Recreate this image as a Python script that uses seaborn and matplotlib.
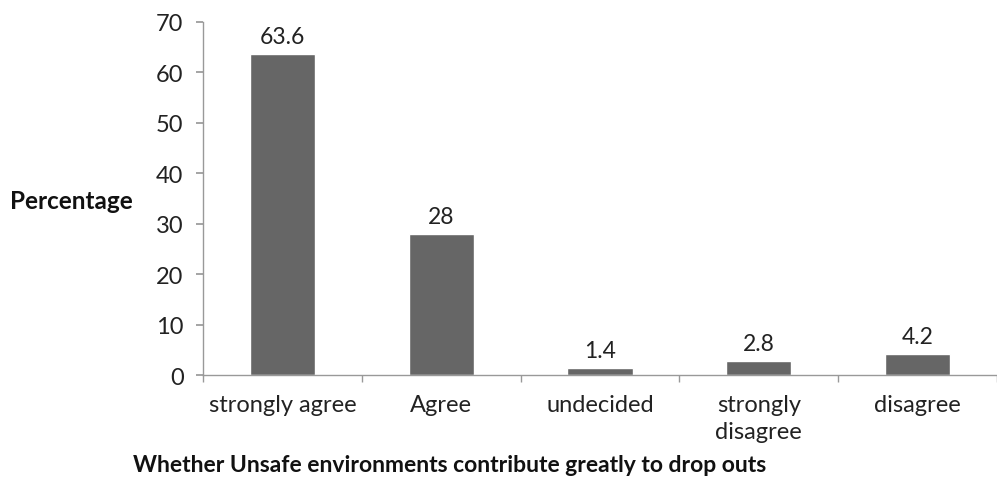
import matplotlib
matplotlib.use("Agg")
import matplotlib.pyplot as plt
from matplotlib.ticker import FixedLocator
import seaborn as sns
import pandas as pd

categories = ["strongly agree", "Agree", "undecided", "strongly\ndisagree", "disagree"]
percentages = [63.6, 28, 1.4, 2.8, 4.2]
value_labels = ["63.6", "28", "1.4", "2.8", "4.2"]

sns.set_theme(style="white")
plt.rcParams["font.family"] = ["Lato", "DejaVu Sans"]

df = pd.DataFrame({"category": categories, "pct": percentages})

fig = plt.figure(figsize=(9.97, 4.85), dpi=100)
ax = fig.add_axes([0.2036, 0.2247, 0.7964, 0.7279])

sns.barplot(data=df, x="category", y="pct", color="#666666", saturation=1,
            width=0.41, ax=ax)

for patch, lab in zip(ax.patches, value_labels):
    ax.annotate(lab, (patch.get_x() + patch.get_width() / 2, patch.get_height()),
                xytext=(0, 5), textcoords="offset points", ha="center",
                va="bottom", fontsize=16.5, color="#222222")

ax.set_xlim(-0.5, 4.5)
ax.set_ylim(0, 70)
ax.set_yticks(range(0, 71, 10))
ax.tick_params(axis="y", labelsize=17, colors="#222222", length=5,
               color="#999999", left=True, pad=9)
ax.set_xticks(range(len(categories)))
ax.tick_params(axis="x", which="major", length=0, labelsize=17,
               colors="#222222", pad=14)
ax.xaxis.set_minor_locator(FixedLocator([-0.5, 0.5, 1.5, 2.5, 3.5, 4.5]))
ax.tick_params(axis="x", which="minor", bottom=True, length=5, color="#999999")

for side in ["top", "right"]:
    ax.spines[side].set_visible(False)
for side in ["left", "bottom"]:
    ax.spines[side].set_color("#999999")
    ax.spines[side].set_linewidth(1)

ax.set_ylabel("")
ax.set_xlabel("Whether Unsafe environments contribute greatly to drop outs",
              fontsize=16.5, fontweight="bold", color="#111111")
ax.xaxis.set_label_coords(0.31, -0.225)
fig.text(0.01, 0.585, "Percentage", fontsize=17.5, fontweight="bold",
         color="#111111", ha="left", va="center")

fig.canvas.draw()
for tick in ax.xaxis.get_major_ticks():
    tick.label1.set_linespacing(1.35)

fig.savefig("out.png", dpi=100, facecolor="white")
